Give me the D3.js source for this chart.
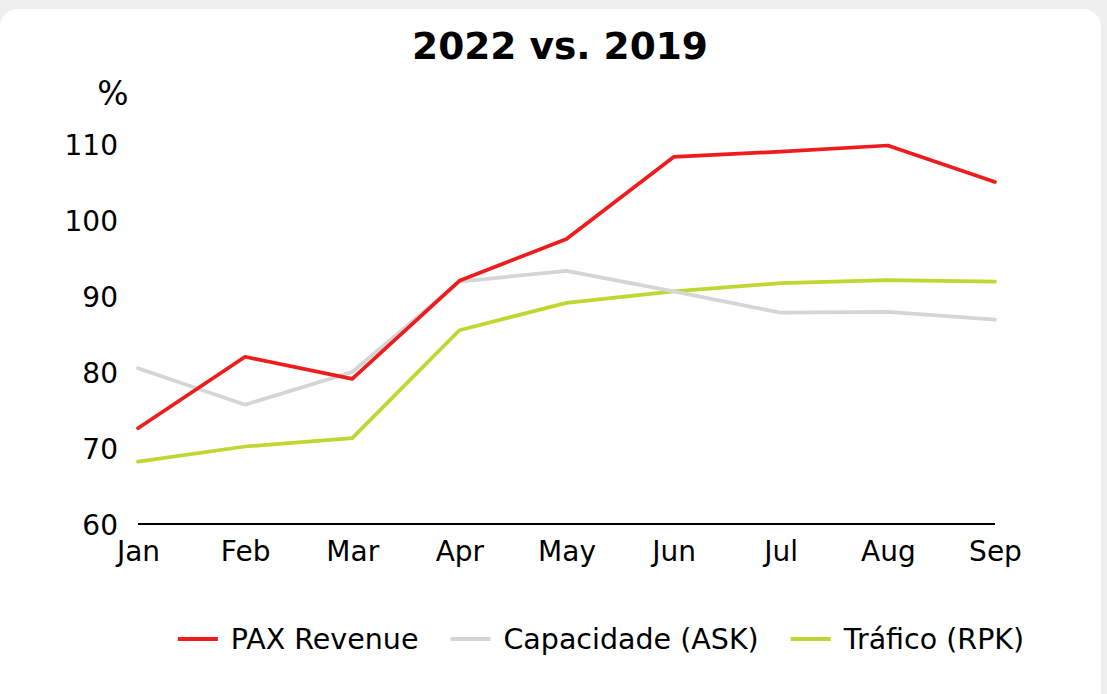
<!DOCTYPE html>
<html><head><meta charset="utf-8">
<script src="https://cdn.jsdelivr.net/npm/d3@7"></script>
<style>
html,body{margin:0;padding:0;background:#efefef;}
svg{display:block;}
</style></head>
<body>
<svg id="chart" width="1107" height="694"></svg>
<script>
const months = ["Jan","Feb","Mar","Apr","May","Jun","Jul","Aug","Sep"];
const paxRevenue = [72.6, 82.0, 79.1, 92.0, 97.5, 108.3, 109.0, 109.8, 105.0];
const capacidade = [80.5, 75.7, 80.0, 91.9, 93.3, 90.6, 87.8, 87.9, 86.9];
const trafico = [68.2, 70.2, 71.3, 85.5, 89.1, 90.6, 91.7, 92.1, 91.9];
const yTicks = [60, 70, 80, 90, 100, 110];
const seriesNames = ["PAX Revenue", "Capacidade (ASK)", "Tráfico (RPK)"];
const seriesColors = ["#ee1c1c", "#d4d6d6", "#bfd730"];
const title = "2022 vs. 2019";
const unitLabel = "%";

const font = "'DejaVu Sans', Verdana, sans-serif";
const svg = d3.select("#chart");
svg.append("rect").attr("x", 0).attr("y", 9).attr("width", 1101).attr("height", 700)
  .attr("rx", 18).attr("fill", "#ffffff");

const x = d3.scalePoint().domain(months).range([138, 995]);
const y = d3.scaleLinear().domain([60, 110]).range([524, 144]);

svg.append("text").attr("x", 560).attr("y", 59).attr("text-anchor", "middle")
  .attr("font-family", font).attr("font-weight", "bold").attr("font-size", 37.5).attr("fill", "#000")
  .text(title);
svg.append("text").attr("x", 113).attr("y", 105).attr("text-anchor", "middle")
  .attr("font-family", font).attr("font-size", 33).attr("fill", "#000").text(unitLabel);

// y axis (labels only)
const yAxis = d3.axisLeft(y).tickValues(yTicks).tickSize(0).tickPadding(0);
const gy = svg.append("g").attr("transform", "translate(118,0)").call(yAxis);
gy.select(".domain").remove();
gy.selectAll("text").attr("font-family", font).attr("font-size", 28).attr("fill", "#000").attr("dy", "0.36em");

// x axis
const xAxis = d3.axisBottom(x).tickSize(0).tickPadding(17);
const gx = svg.append("g").attr("transform", "translate(0,524)").call(xAxis);
gx.select(".domain").attr("stroke", "#000").attr("stroke-width", 2).attr("d", "M138,0H995");
gx.selectAll("text").attr("font-family", font).attr("font-size", 28).attr("fill", "#000");

const line = d3.line().x((d, i) => x(months[i])).y(d => y(d));
const allSeries = [paxRevenue, capacidade, trafico];
// draw order: green, gray, red on top
[2, 1, 0].forEach(k => {
  svg.append("path").datum(allSeries[k]).attr("d", line)
    .attr("fill", "none").attr("stroke", seriesColors[k]).attr("stroke-width", 3.7)
    .attr("stroke-linejoin", "round").attr("stroke-linecap", "round");
});

// legend
const lg = svg.append("g");
let cx = 0;
const gap = 32;
seriesNames.forEach((n, i) => {
  const g = lg.append("g");
  g.append("line").attr("x1", cx).attr("x2", cx + 40).attr("y1", 0).attr("y2", 0)
    .attr("stroke", seriesColors[i]).attr("stroke-width", 4);
  const t = g.append("text").attr("x", cx + 53).attr("y", 10).attr("font-family", font)
    .attr("font-size", 28.5).attr("fill", "#000").text(n);
  const w = t.node().getComputedTextLength();
  cx += 53 + w + gap;
});
const total = cx - gap;
lg.attr("transform", `translate(${601 - total / 2},639)`);
</script>
</body></html>
